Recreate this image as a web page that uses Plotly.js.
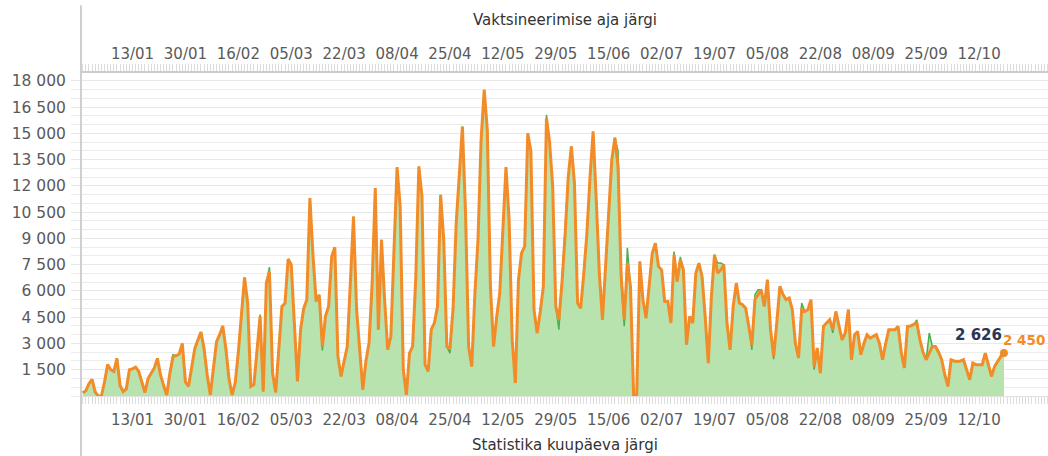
<!DOCTYPE html>
<html>
<head>
<meta charset="utf-8">
<script src="https://cdn.plot.ly/plotly-3.0.1.min.js"></script>
<style>
  html, body { margin: 0; padding: 0; background: #ffffff; }
  #chart { width: 1048px; height: 456px; }
</style>
</head>
<body>
<div id="chart"></div>
<script>
// First day of the daily series
const START_DATE = '2020-12-28';

// Vaccinations by vaccination date (orange line, top axis)
const byVaccinationDate = [
  190, 300, 700, 950, 230, 0, 0, 800, 1800, 1500,
  1400, 2150, 600, 250, 400, 1500, 1550, 1650, 1400, 800,
  200, 1000, 1300, 1600, 2150, 1200, 600, 60, 1300, 2250,
  2300, 2400, 3000, 800, 550, 1600, 2700, 3200, 3650, 2700,
  1200, 60, 1500, 3100, 3500, 4000, 2700, 1000, 60, 760,
  2500, 4600, 6770, 5300, 550, 650, 2640, 4550, 260, 6450,
  7100, 1310, 210, 2600, 5120, 5300, 7820, 7500, 4000, 840,
  3790, 5000, 5500, 11300, 8000, 5400, 5780, 2830, 4550, 5120,
  7970, 8500, 2260, 1120, 2000, 2830, 6500, 10250, 4930, 2500,
  360, 2000, 3030, 6450, 11880, 3790, 8920, 5500, 2640, 3400,
  8500, 13070, 10830, 1500, 70, 2450, 2830, 6700, 13110, 11400,
  1790, 1400, 3800, 4170, 5120, 11490, 8920, 2830, 2740, 5000,
  9880, 12600, 15390, 10450, 2830, 1690, 5800, 8920, 14620, 17490,
  15200, 6260, 2830, 4500, 5880, 9500, 13070, 10060, 3210, 740,
  6640, 8160, 8540, 15010, 13970, 4930, 3600, 4800, 6260, 15870,
  14500, 12000, 5120, 4360, 6500, 9200, 12500, 14260, 12160, 5310,
  5020, 7000, 9310, 12500, 15110, 11210, 7000, 4360, 7500, 10250,
  13510, 14750, 13110, 6900, 4360, 7590, 6260, 70, 70, 7680,
  5500, 4450, 6500, 8160, 8730, 7400, 7210, 5400, 5400, 4170,
  8070, 6540, 7780, 7210, 2930, 4550, 4170, 7020, 7590, 6830,
  4550, 1880, 5690, 8070, 7020, 7200, 7500, 4170, 2640, 5120,
  6450, 5310, 5210, 5020, 4000, 2930, 5500, 5800, 6070, 5120,
  6640, 3790, 2260, 4170, 6260, 5800, 5500, 5600, 4930, 3000,
  2170, 4930, 4830, 4930, 5500, 1690, 2740, 1310, 3980, 4170,
  4360, 3790, 4830, 4000, 3210, 3600, 4930, 2070, 3500, 3690,
  2360, 3000, 3500, 3310, 3400, 3500, 3000, 2070, 3000, 3790,
  3790, 3790, 3980, 2500, 1600, 3980, 4000, 4070, 4170, 3210,
  2500, 2070, 2500, 2830, 2830, 2500, 2070, 1200, 550, 2070,
  2000, 1970, 2000, 2070, 1500, 930, 1880, 1790, 1790, 1790,
  2450, 1700, 1120, 1690, 2000, 2260, 2450
];

// Vaccinations by statistics date (green area, bottom axis)
const byStatisticsDate = [
  190, 300, 700, 950, 230, 0, 0, 800, 1800, 1500,
  1400, 2150, 600, 250, 400, 1500, 1550, 1650, 1400, 800,
  200, 1000, 1300, 1600, 2150, 1200, 600, 60, 1300, 2360,
  2300, 2400, 3000, 800, 550, 1600, 2700, 3200, 3650, 2700,
  1200, 60, 1500, 3100, 3500, 4000, 2700, 1000, 60, 760,
  2500, 4600, 6770, 5300, 550, 650, 2640, 4650, 260, 6450,
  7360, 1310, 210, 2600, 5120, 5300, 7820, 7500, 4000, 840,
  3790, 5000, 5500, 11300, 8000, 5400, 5780, 2600, 4550, 5120,
  7970, 8500, 2260, 1120, 2000, 2830, 6500, 10250, 4930, 2500,
  360, 2000, 3030, 6450, 11880, 3790, 8920, 5500, 2640, 3400,
  8500, 13070, 10830, 1500, 70, 2450, 2830, 6700, 13110, 11400,
  1790, 1400, 3800, 4170, 5120, 11490, 8920, 2830, 2450, 5000,
  9880, 12600, 15390, 10450, 2830, 1690, 5800, 8920, 14620, 17490,
  15200, 6260, 2830, 4500, 5880, 9500, 13070, 10060, 3210, 740,
  6640, 8160, 8540, 15010, 13970, 4930, 3600, 4800, 6260, 16060,
  14500, 12000, 5120, 3790, 6500, 9200, 12500, 14260, 12160, 5310,
  5020, 7000, 9310, 12500, 15110, 11210, 7000, 4360, 7500, 10250,
  13510, 14750, 14000, 6500, 3980, 8470, 6260, 70, 70, 7680,
  5500, 4450, 6500, 8160, 8730, 7400, 7210, 5400, 5400, 4170,
  8250, 6540, 7950, 7210, 2930, 4550, 4170, 7020, 7590, 6830,
  4550, 1880, 5690, 8070, 7590, 7590, 7500, 4170, 2640, 5120,
  6450, 5310, 5210, 5020, 4000, 2640, 5800, 6070, 6070, 5120,
  6640, 3790, 2100, 4170, 6260, 5800, 5500, 5600, 4930, 3000,
  2170, 5310, 4830, 4930, 5500, 1500, 2740, 1310, 3980, 4170,
  4360, 3600, 4830, 4000, 3210, 3600, 4930, 2070, 3500, 3690,
  2360, 3000, 3500, 3310, 3400, 3500, 3000, 2070, 3000, 3790,
  3790, 3790, 3980, 2500, 1600, 3980, 4000, 4070, 4350, 3210,
  2500, 2070, 3600, 2830, 2830, 2500, 2070, 1200, 550, 2070,
  2000, 1970, 2000, 2070, 1500, 930, 1880, 1790, 1790, 1790,
  2450, 1700, 1120, 1690, 2000, 2260, 2626
];

// Tick values shown on the value axis
const yTickVals = [1500, 3000, 4500, 6000, 7500, 9000, 10500, 12000, 13500, 15000, 16500, 18000];

const topTitle = 'Vaktsineerimise aja järgi';
const bottomTitle = 'Statistika kuupäeva järgi';

// ---- helpers ----
const DAY = 86400000;
const t0 = Date.parse(START_DATE + 'T00:00:00Z');
function iso(ms) { return new Date(ms).toISOString().slice(0, 19).replace('T', ' '); }
function fmt(n) { return String(n).replace(/\B(?=(\d{3})+(?!\d))/g, ' '); }
const dates = byVaccinationDate.map((_, i) => iso(t0 + i * DAY));

const base = Date.parse('2020-12-27T00:00:00Z') + 0.45 * DAY;
const rangeStart = iso(base);
const rangeEnd = iso(base + 310.7 * DAY);

const FONT = 'DejaVu Sans, Verdana, sans-serif';
const lastIdx = dates.length - 1;

const traces = [
  {
    x: dates, y: byStatisticsDate, type: 'scatter', mode: 'lines',
    xaxis: 'x', yaxis: 'y',
    line: { color: '#4caf4c', width: 1.5 },
    fill: 'tozeroy', fillcolor: '#b8e2ae',
    hoverinfo: 'skip', showlegend: false
  },
  {
    x: dates, y: byVaccinationDate, type: 'scatter', mode: 'lines',
    xaxis: 'x2', yaxis: 'y',
    line: { color: '#f28c28', width: 3 },
    hoverinfo: 'skip', showlegend: false
  },
  {
    x: [dates[lastIdx]], y: [byVaccinationDate[lastIdx]], type: 'scatter', mode: 'markers',
    xaxis: 'x2', yaxis: 'y',
    marker: { color: '#f28c28', size: 8 },
    hoverinfo: 'skip', showlegend: false
  }
];

const xCommon = {
  type: 'date',
  range: [rangeStart, rangeEnd],
  tickmode: 'linear',
  tick0: '2021-01-13',
  dtick: 17 * DAY,
  tickformat: '%d/%m',
  ticks: 'outside', ticklen: 7, tickcolor: '#dcdcdc', tickwidth: 1,
  minor: { dtick: DAY, ticks: 'outside', ticklen: 7, tickcolor: '#dcdcdc', tickwidth: 1, showgrid: false },
  showgrid: false, zeroline: false,
  tickfont: { family: FONT, size: 15, color: '#5a5a5a' },
  fixedrange: true
};

const layout = {
  width: 1048, height: 456,
  margin: { l: 81, r: 0, t: 73, b: 60, pad: 0 },
  paper_bgcolor: '#ffffff', plot_bgcolor: '#ffffff',
  separators: ', ',
  xaxis: Object.assign({}, xCommon, {
    side: 'bottom', showline: true, linecolor: '#e0e0e0', linewidth: 1,
    ticklabelstandoff: 3
  }),
  xaxis2: Object.assign({}, xCommon, {
    side: 'top', overlaying: 'x', showline: true, linecolor: '#cccccc', linewidth: 2,
    ticklabelstandoff: -1
  }),
  yaxis: {
    range: [0, 18450],
    tickmode: 'array', tickvals: yTickVals,
    tickformat: ',d',
    showgrid: true, gridcolor: '#e8e8e8', gridwidth: 1,
    minor: { dtick: 500, tick0: 0, showgrid: true, gridcolor: '#ececec', gridwidth: 1,
             ticks: 'outside', ticklen: 9, tickcolor: '#ececec' },
    ticks: 'outside', ticklen: 9, tickcolor: '#e8e8e8',
    zeroline: false, showline: false,
    tickfont: { family: FONT, size: 15.5, color: '#5a5a5a' },
    ticklabelstandoff: 2,
    fixedrange: true
  },
  shapes: [
    { type: 'line', xref: 'paper', yref: 'paper', x0: 0, x1: 0, y0: -0.2, y1: 1.21,
      line: { color: '#cfcfcf', width: 2 } }
  ],
  annotations: [
    { text: topTitle, xref: 'paper', yref: 'paper', x: 0.5, y: 1.164, xanchor: 'center', yanchor: 'middle',
      showarrow: false, font: { family: FONT, size: 15, color: '#333333' } },
    { text: bottomTitle, xref: 'paper', yref: 'paper', x: 0.5, y: -0.151, xanchor: 'center', yanchor: 'middle',
      showarrow: false, font: { family: FONT, size: 15, color: '#333333' } },
    { text: '<b>' + fmt(byStatisticsDate[lastIdx]) + '</b>',
      xref: 'x', yref: 'y', x: dates[lastIdx], y: byStatisticsDate[lastIdx],
      xanchor: 'right', yanchor: 'middle', xshift: 0, yshift: 15,
      showarrow: false, font: { family: FONT, size: 15, color: '#2b3552' } },
    { text: '<b>' + fmt(byVaccinationDate[lastIdx]) + '</b>',
      xref: 'x2', yref: 'y', x: dates[lastIdx], y: byVaccinationDate[lastIdx],
      xanchor: 'left', yanchor: 'middle', xshift: -3, yshift: 13,
      showarrow: false, font: { family: FONT, size: 13.5, color: '#f28c28' } }
  ]
};

Plotly.newPlot('chart', traces, layout, { displayModeBar: false, staticPlot: true });
</script>
</body>
</html>
